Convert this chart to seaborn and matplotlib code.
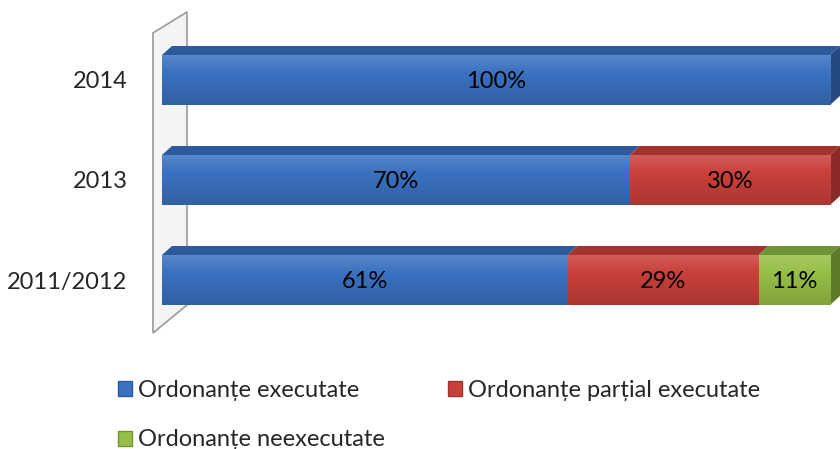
import matplotlib
matplotlib.use("Agg")
import matplotlib.pyplot as plt
import seaborn as sns
import pandas as pd
import numpy as np
from matplotlib.patches import Patch, Polygon
from matplotlib.colors import to_rgb

years = ["2014", "2013", "2011/2012"]
executate = [100, 70, 60.7]
partial_executate = [0, 30, 28.6]
neexecutate = [0, 0, 10.7]
series_names = ["Ordonanțe executate", "Ordonanțe parțial executate", "Ordonanțe neexecutate"]

front_colors = ["#3A71C0", "#C9403A", "#97BF47"]
top_colors = ["#2C5A9C", "#A3332E", "#6F9432"]
side_colors = ["#234A82", "#8A2B27", "#5C7C29"]

FONT = ["Lato", "DejaVu Sans"]

sns.set_theme(style="white")
plt.rcParams["font.family"] = FONT

df = pd.DataFrame({
    "year": years,
    "executate": executate,
    "partial": partial_executate,
    "neexecutate": neexecutate,
})
cols = ["executate", "partial", "neexecutate"]
cum = df[cols].cumsum(axis=1)
starts = cum - df[cols]

fig = plt.figure(figsize=(8.4, 4.49), dpi=100)
ax = fig.add_axes([140 / 840, (449 - 345) / 449, 700 / 840, 345 / 449])

bar_h = 0.5
dx, dy = 1.5, -0.09

# back wall
wall = Polygon([(-1.35, -0.47), (-1.35, 2.53), (3.74, 2.25), (3.74, -0.68)],
               closed=True, facecolor="#F4F4F4", edgecolor="#9A9A9A", lw=1.2, zorder=0)
ax.add_patch(wall)

# stacked front faces, drawn from longest to shortest
for i in reversed(range(len(cols))):
    sns.barplot(data=cum.assign(year=df["year"]), x=cols[i], y="year", orient="h",
                color=front_colors[i], width=bar_h, saturation=1, edgecolor="none",
                ax=ax, zorder=3)

# soft vertical gradient on front faces
for p in list(ax.patches):
    if p is wall or p.get_width() <= 0:
        continue
    base = np.array(to_rgb(p.get_facecolor()))
    t = np.linspace(0, 1, 64)[:, None]
    light = base + (1 - base) * 0.15
    dark = base * 0.85
    grad = np.where(t < 0.35, light + (base - light) * (t / 0.35),
                    base + (dark - base) * ((t - 0.35) / 0.65))
    x0, y0 = p.get_x(), p.get_y()
    im = ax.imshow(grad[:, None, :], extent=(x0, x0 + p.get_width(), y0 + p.get_height(), y0),
                   aspect="auto", zorder=3.5, interpolation="bilinear")
    im.set_clip_path(p)

# 3D top and side faces
for r in range(len(years)):
    yt = r - bar_h / 2
    yb = r + bar_h / 2
    for i, c in enumerate(cols):
        x0 = starts.loc[r, c]
        x1 = cum.loc[r, c]
        if x1 - x0 <= 0:
            continue
        ax.add_patch(Polygon([(x0, yt), (x1, yt), (x1 + dx, yt + dy), (x0 + dx, yt + dy)],
                             closed=True, facecolor=top_colors[i], edgecolor="none", zorder=2))
    last = max(i for i, c in enumerate(cols) if df.loc[r, c] > 0)
    xe = cum.loc[r, cols[-1]]
    ax.add_patch(Polygon([(xe, yt), (xe + dx, yt + dy), (xe + dx, yb + dy), (xe, yb)],
                         closed=True, facecolor=side_colors[last], edgecolor="none", zorder=2))

# value labels
for r in range(len(years)):
    for c in cols:
        v = df.loc[r, c]
        if v <= 0:
            continue
        ax.text(starts.loc[r, c] + v / 2, r + 0.02, f"{v:.0f}%", ha="center", va="center",
                fontsize=17, color="black", zorder=5, family=FONT)

ax.set_xlim(-3.29, 101.5)
ax.set_ylim(2.65, -0.8)
ax.set_xlabel("")
ax.set_ylabel("")
ax.set_xticks([])
ax.tick_params(axis="y", length=0, pad=9, labelsize=17)
for lab in ax.get_yticklabels():
    lab.set_family(FONT)
for s in ax.spines.values():
    s.set_visible(False)
ax.set_facecolor("none")

# column-major legend: executate / neexecutate in column 1, partial in column 2
order = [0, 2, 1]
handles = [Patch(facecolor=front_colors[i], edgecolor=top_colors[i], label=series_names[i])
           for i in order]
fig.legend(handles=handles, loc="upper left", bbox_to_anchor=(118 / 840, 1 - 380 / 449),
           ncol=2, frameon=False, borderpad=0, borderaxespad=0, handlelength=0.6,
           handleheight=0.6, handletextpad=0.25, columnspacing=2.65, labelspacing=1.2,
           prop={"family": FONT, "size": 17})

fig.savefig("out.png", dpi=100)
